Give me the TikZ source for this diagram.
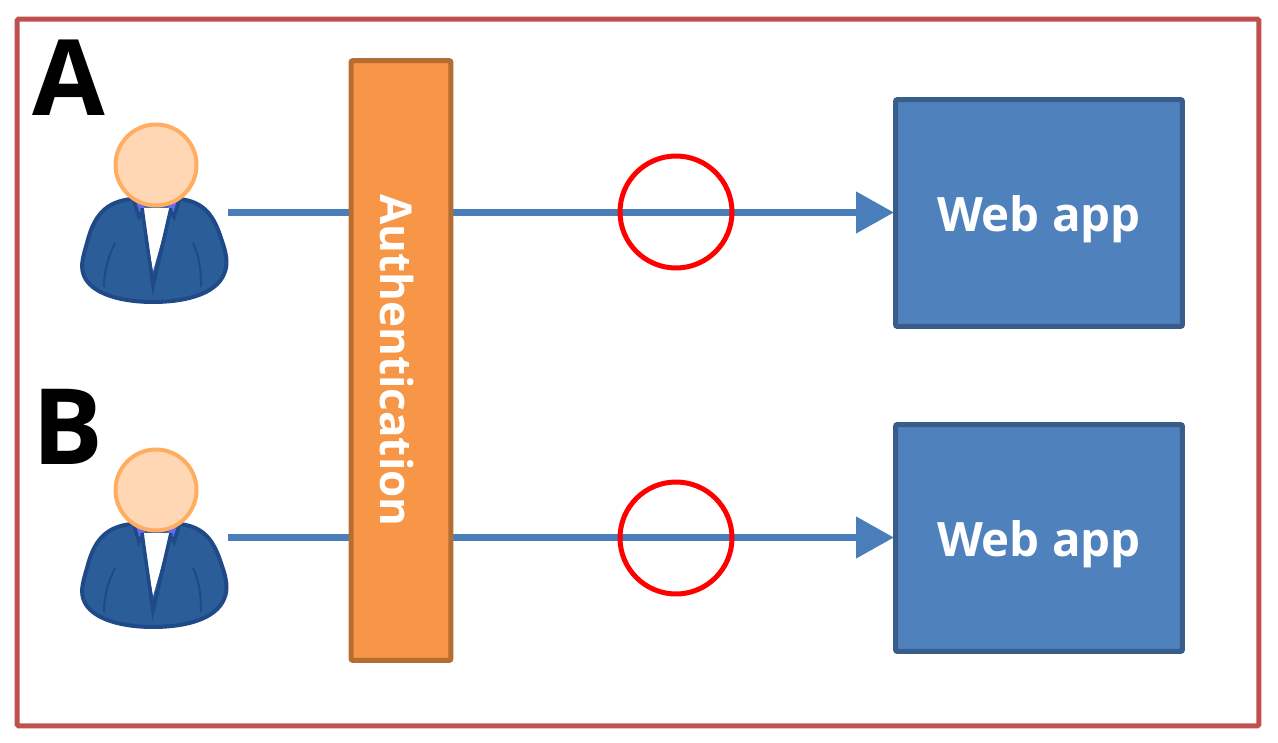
\documentclass[tikz,border=0pt]{standalone}
\usepackage{fontspec}
\setmainfont{Open Sans}
\usetikzlibrary{
  arrows.meta,
  backgrounds
}
\definecolor{FrameRed}{RGB}{192,80,77}
\definecolor{LinkBlue}{RGB}{74,126,187}
\definecolor{AppBlue}{RGB}{79,129,189}
\definecolor{AppEdge}{RGB}{56,93,138}
\definecolor{AuthOrange}{RGB}{247,150,70}
\definecolor{AuthEdge}{RGB}{182,109,49}
\definecolor{SkinFill}{RGB}{255,215,181}
\definecolor{SkinEdge}{RGB}{255,173,96}
\definecolor{SuitBlue}{RGB}{43,93,152}
\definecolor{SuitEdge}{RGB}{31,74,135}
\definecolor{CollarBlue}{RGB}{104,104,240}
\tikzset{
  framebox/.style={draw=FrameRed,line width=0.1cm,rounded corners=0.03cm,minimum width=24.84cm,minimum height=14.14cm,inner sep=0pt,outer sep=0pt},
  appnode/.style={draw=AppEdge,fill=AppBlue,line width=0.1cm,rounded corners=0.04cm,minimum width=5.74cm,minimum height=4.54cm,inner sep=0pt,outer sep=0pt,text=white,font=\fontsize{27}{27}\selectfont\bfseries,text height=0.76cm,text depth=0pt},
  authnode/.style={draw=AuthEdge,fill=AuthOrange,line width=0.1cm,rounded corners=0.04cm,minimum width=12cm,minimum height=2cm,inner sep=0pt,outer sep=0pt,text=white,font=\fontsize{25}{25}\selectfont\bfseries,text height=0.84cm,text depth=0pt,rotate=-90},
  marknode/.style={draw=red,line width=0.1cm,circle,minimum size=2.24cm,inner sep=0pt,outer sep=0pt},
  caseletter/.style={inner sep=0pt,font=\fontsize{60}{60}\selectfont\bfseries},
  linkarrow/.style={-{Triangle[length=0.76cm,width=0.8cm]},line width=0.15cm,draw=LinkBlue,shorten >=0.03cm},
  headnode/.style={draw=SkinEdge,fill=SkinFill,line width=0.08cm,circle,minimum size=1.62cm,inner sep=0pt,outer sep=0pt},
  person/.pic={
    \draw[draw=SuitEdge,fill=SuitBlue,line width=0.08cm] (-25,34) .. controls (-50,37) and (-62,50) .. (-69,78) .. controls (-74,95) and (-76,103) .. (-71,113) .. controls (-61,131) and (-30,137) .. (-3,137) .. controls (25,137) and (55,131) .. (66,113) .. controls (72,103) and (72,93) .. (66,76) .. controls (58,50) and (48,37) .. (24,34) -- cycle;
    \fill[CollarBlue] (-21,36) -- (-11,42) -- (-17,48) -- cycle (21,36) -- (11,42) -- (17,48) -- cycle;
    \fill[white] (-14,43) -- (15,43) -- (-3,106) -- cycle;
    \draw[SuitEdge,line width=0.07cm] (-22,36) -- (-17,52) -- (-13,45) (-14,43) -- (-3,121) -- (15,43) (14,45) -- (18,52) -- (23,36);
    \draw[SuitEdge,line width=0.04cm] (-41,78) .. controls (-47,90) and (-52,105) .. (-52,122) (37,78) .. controls (43,90) and (45,105) .. (45,122);
    \node[headnode] (-head) at (0,0) {};
    \coordinate (-out) at (72,47.5);
  }
}
\begin{document}
\begin{tikzpicture}[x=0.02cm,y=-0.02cm]
\useasboundingbox (0,0) rectangle (1278,743);
\node[framebox] (frame) at (638,372.5) {};

\node[authnode] (auth) at (401,360.5) {Authentication};
\node[appnode] (appA) at (1039,213) {Web app};
\node[appnode] (appB) at (1039,538) {Web app};

\pic (userA) at (156,165) {person};
\pic (userB) at (156,490) {person};

\node[caseletter] (letterA) at (69,78) {A};
\node[caseletter] (letterB) at (68,427) {B};

\begin{scope}[on background layer]
\draw[linkarrow] (userA-out) -- (appA.west |- userA-out);
\draw[linkarrow] (userB-out) -- (appB.west |- userB-out);
\end{scope}

\node[marknode] (markA) at (676,212) {};
\node[marknode] (markB) at (676,538) {};
\end{tikzpicture}
\end{document}
